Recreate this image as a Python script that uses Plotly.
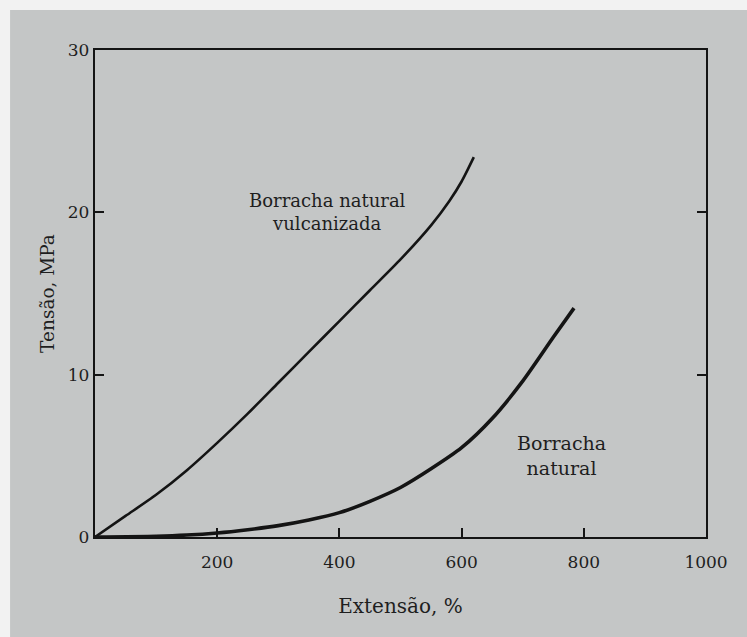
import plotly.graph_objects as go

# Data (Extensão %, Tensão MPa)
vulc_x = [0, 50, 100, 150, 200, 250, 300, 350, 400, 450, 500, 550, 580, 600, 620]
vulc_y = [0, 1.3, 2.6, 4.1, 5.8, 7.6, 9.5, 11.4, 13.3, 15.2, 17.1, 19.2, 20.7, 21.9, 23.4]

nat_x = [0, 100, 150, 200, 250, 300, 350, 400, 450, 500, 550, 600, 650, 700, 750, 784]
nat_y = [0, 0.05, 0.12, 0.25, 0.45, 0.7, 1.05, 1.5, 2.2, 3.05, 4.2, 5.5, 7.3, 9.6, 12.3, 14.1]

x_ticks = [200, 400, 600, 800, 1000]
y_ticks = [0, 10, 20, 30]

label_vulc = "Borracha natural<br>vulcanizada"
label_nat = "Borracha<br>natural"

serif = "DejaVu Serif, Liberation Serif, serif"
ink = "#141414"
txt = "#1e1e1e"

fig = go.Figure()
fig.add_trace(go.Scatter(x=vulc_x, y=vulc_y, mode="lines",
                         line=dict(color=ink, width=2.6, shape="spline", smoothing=0.7),
                         showlegend=False, hoverinfo="skip"))
fig.add_trace(go.Scatter(x=nat_x, y=nat_y, mode="lines",
                         line=dict(color=ink, width=3.6, shape="spline", smoothing=0.7),
                         showlegend=False, hoverinfo="skip"))

fig.add_annotation(x=381, y=20.0, text=label_vulc, showarrow=False,
                   font=dict(family=serif, size=18, color=txt), align="center")
fig.add_annotation(x=764, y=5.05, text=label_nat, showarrow=False,
                   font=dict(family=serif, size=19, color=txt), align="center")

# photographed grey page with a light edge at top/left
fig.add_shape(type="rect", xref="paper", yref="paper", x0=-0.139, x1=1.2, y0=-0.4, y1=1.082,
              fillcolor="#c4c6c6", line=dict(width=0), layer="below")

fig.update_layout(
    width=747, height=637,
    margin=dict(l=95, r=41, t=50, b=100),
    paper_bgcolor="#f2f2f2",
    plot_bgcolor="rgba(0,0,0,0)",
    font=dict(family=serif, color=txt),
    xaxis=dict(range=[0, 1000], tickvals=x_ticks, ticks="inside", ticklen=9, tickwidth=1.6,
               tickcolor=ink, showline=True, linecolor=ink, linewidth=2.4, mirror=True,
               showgrid=False, zeroline=False, ticklabelstandoff=8,
               tickfont=dict(family=serif, size=17, color=txt),
               title=dict(text="Extensão, %", font=dict(family=serif, size=20, color=txt), standoff=28)),
    yaxis=dict(range=[0, 30], tickvals=y_ticks, ticks="inside", ticklen=9, tickwidth=1.6,
               tickcolor=ink, showline=True, linecolor=ink, linewidth=2.4, mirror="ticks",
               showgrid=False, zeroline=False,
               tickfont=dict(family=serif, size=17, color=txt),
               title=dict(text="Tensão, MPa", font=dict(family=serif, size=18.5, color=txt), standoff=8)),
)

fig.write_html("out.html",
               config={"displayModeBar": False},
               post_script="document.body.style.margin='0';document.body.style.overflow='hidden';")
